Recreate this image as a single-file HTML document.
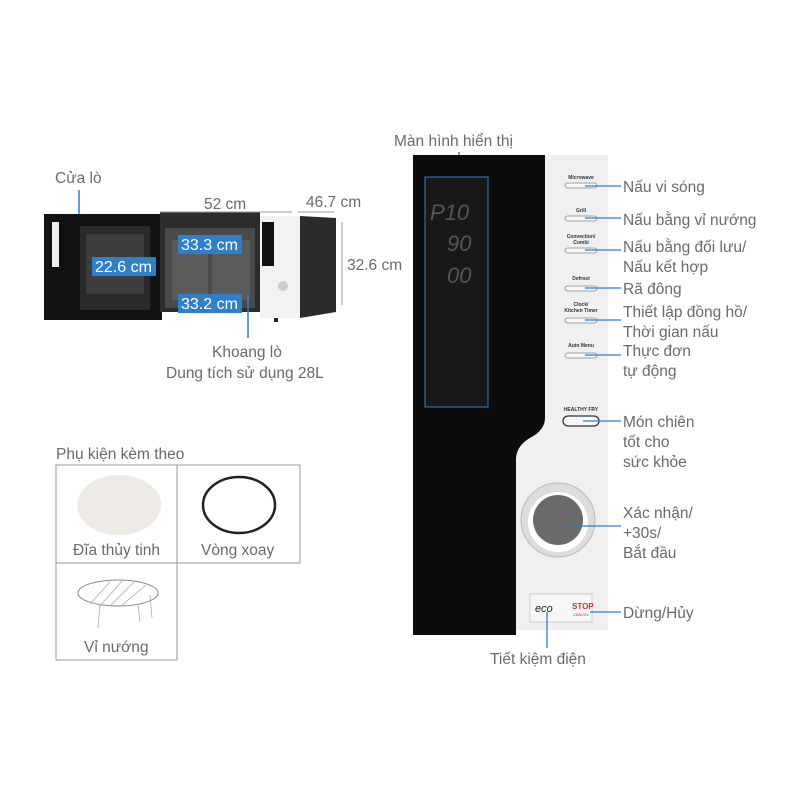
<!DOCTYPE html>
<html><head><meta charset="utf-8"><style>
html,body{margin:0;padding:0;background:#fff;}
svg{display:block;}
text{font-family:"Liberation Sans",sans-serif;}
.lb{font-size:15.5px;fill:#6a6a6a;}
.bt{font-size:5px;fill:#333;text-anchor:middle;font-weight:bold;}
.bl{fill:#2f7fc9;}
.wt{font-size:16px;fill:#fff;}
</style></head><body>
<svg width="800" height="800" viewBox="0 0 800 800" xmlns="http://www.w3.org/2000/svg">
<rect width="800" height="800" fill="#fff"/>

<!-- LEFT MICROWAVE -->
<text x="55" y="183" class="lb">Cửa lò</text>
<line x1="79" y1="190" x2="79" y2="222" stroke="#2f7fc9" stroke-width="1.5"/>
<rect x="44" y="214" width="118" height="106" fill="#111"/>
<rect x="52" y="222" width="7" height="45" fill="#eee"/>
<rect x="80" y="226" width="70" height="84" fill="#2a2a2a"/>
<rect x="86" y="234" width="58" height="60" fill="#3d3d3d"/>
<rect x="160" y="212" width="100" height="100" fill="#2c2c2c"/>
<rect x="165" y="228" width="90" height="80" fill="#4a4a4a"/>
<rect x="172" y="240" width="36" height="60" fill="#5b5b5b"/>
<rect x="212" y="240" width="38" height="60" fill="#5b5b5b"/>
<rect x="260" y="216" width="40" height="102" fill="#f2f2f2"/>
<rect x="262" y="222" width="12" height="44" fill="#111"/>
<circle cx="283" cy="286" r="5" fill="#ccc"/>
<polygon points="300,216 336,218 336,312 300,318" fill="#2b2b2b"/>
<rect x="274" y="318" width="4" height="4" fill="#222"/>
<!-- dims -->
<text x="204" y="209" class="lb">52 cm</text>
<line x1="160" y1="212" x2="292" y2="212" stroke="#999" stroke-width="1"/>
<text x="306" y="207" class="lb">46.7 cm</text>
<line x1="298" y1="212" x2="334" y2="212" stroke="#999" stroke-width="1"/>
<line x1="342" y1="222" x2="342" y2="305" stroke="#999" stroke-width="1"/>
<text x="347" y="270" class="lb">32.6 cm</text>
<rect x="178" y="235" width="64" height="19" class="bl"/>
<text x="181" y="250" class="wt">33.3 cm</text>
<rect x="92" y="257" width="64" height="19" class="bl"/>
<text x="95" y="272" class="wt">22.6 cm</text>
<rect x="178" y="294" width="64" height="19" class="bl"/>
<text x="181" y="309" class="wt">33.2 cm</text>
<line x1="248" y1="296" x2="248" y2="338" stroke="#2f7fc9" stroke-width="1.5"/>
<text x="212" y="357" class="lb">Khoang lò</text>
<text x="166" y="378" class="lb">Dung tích sử dụng 28L</text>

<!-- ACCESSORIES -->
<text x="56" y="459" class="lb">Phụ kiện kèm theo</text>
<path d="M56,465 H300 V563 H56 Z M177,465 V660 M56,563 V660 H177" fill="none" stroke="#999" stroke-width="1"/>
<ellipse cx="119" cy="505" rx="42" ry="30" fill="#eeeae5"/>
<ellipse cx="239" cy="505" rx="36" ry="28" fill="none" stroke="#222" stroke-width="2.5"/>
<text x="73" y="555" class="lb">Đĩa thủy tinh</text>
<text x="201" y="555" class="lb">Vòng xoay</text>
<ellipse cx="118" cy="593" rx="40" ry="13" fill="none" stroke="#888" stroke-width="1"/>
<g stroke="#aaa" stroke-width="0.8">
<line x1="90" y1="604" x2="110" y2="582"/><line x1="100" y1="606" x2="122" y2="581"/><line x1="110" y1="606" x2="134" y2="582"/><line x1="122" y1="605" x2="146" y2="585"/>
<line x1="100" y1="604" x2="98" y2="628"/><line x1="150" y1="595" x2="152" y2="618"/><line x1="138" y1="605" x2="140" y2="622"/>
</g>
<text x="84" y="652" class="lb">Vỉ nướng</text>

<!-- RIGHT PANEL -->
<text x="394" y="146" class="lb">Màn hình hiển thị</text>
<line x1="459" y1="152" x2="459" y2="178" stroke="#2f7fc9" stroke-width="1.5"/>
<path d="M413,155 H545 V420 Q545,432 530,438 Q516,446 516,460 V635 H413 Z" fill="#0c0c0c"/>
<path d="M545,155 H608 V630 H516 V462 Q516,446 530,438 Q545,430 545,418 Z" fill="#f0f0f0"/>
<rect x="425" y="177" width="63" height="230" fill="#181818" stroke="#2f7fc9" stroke-width="1"/>
<text x="430" y="220" font-size="22" fill="#555" font-style="italic">P10</text>
<text x="447" y="251" font-size="22" fill="#555" font-style="italic">90</text>
<text x="447" y="283" font-size="22" fill="#555" font-style="italic">00</text>
<!-- buttons -->
<g fill="#f7f7f7" stroke="#888" stroke-width="0.8">
<rect x="565" y="183" width="32" height="5" rx="2.5"/>
<rect x="565" y="216" width="32" height="5" rx="2.5"/>
<rect x="565" y="248" width="32" height="5" rx="2.5"/>
<rect x="565" y="286" width="32" height="5" rx="2.5"/>
<rect x="565" y="318" width="32" height="5" rx="2.5"/>
<rect x="565" y="353" width="32" height="5" rx="2.5"/>
<rect x="563" y="416" width="36" height="10" rx="5" stroke="#333" stroke-width="1.3"/>
</g>
<text x="581" y="179" class="bt">Microwave</text>
<text x="581" y="212" class="bt">Grill</text>
<text x="581" y="238" class="bt">Convection/</text>
<text x="581" y="244" class="bt">Combi</text>
<text x="581" y="280" class="bt">Defrost</text>
<text x="581" y="306" class="bt">Clock/</text>
<text x="581" y="312" class="bt">Kitchen Timer</text>
<text x="581" y="347" class="bt">Auto Menu</text>
<text x="581" y="411" class="bt">HEALTHY FRY</text>
<circle cx="558" cy="520" r="37" fill="#ddd" stroke="#bbb"/>
<circle cx="558" cy="522" r="30" fill="#fff"/>
<circle cx="558" cy="520" r="25" fill="#6a6a6a"/>
<rect x="530" y="594" width="62" height="28" fill="#f7f7f7" stroke="#ccc"/>
<text x="535" y="612" font-size="11" fill="#222" font-style="italic">eco</text>
<text x="572" y="609" font-size="8" fill="#c33" font-weight="bold">STOP</text>
<text x="573" y="616" font-size="4" fill="#c33">CANCEL</text>
<!-- connectors -->
<g stroke="#2f7fc9" stroke-width="1.3">
<line x1="585" y1="186" x2="621" y2="186"/>
<line x1="585" y1="218" x2="621" y2="218"/>
<line x1="585" y1="250" x2="621" y2="250"/>
<line x1="585" y1="288" x2="621" y2="288"/>
<line x1="585" y1="320" x2="621" y2="320"/>
<line x1="585" y1="355" x2="621" y2="355"/>
<line x1="583" y1="421" x2="621" y2="421"/>
<line x1="570" y1="526" x2="621" y2="526"/>
<line x1="590" y1="612" x2="621" y2="612"/>
<line x1="547" y1="612" x2="547" y2="648"/>
</g>
<text x="623" y="192" class="lb">Nấu vi sóng</text>
<text x="623" y="225" class="lb">Nấu bằng vỉ nướng</text>
<text x="623" y="252" class="lb">Nấu bằng đối lưu/</text>
<text x="623" y="272" class="lb">Nấu kết hợp</text>
<text x="623" y="294" class="lb">Rã đông</text>
<text x="623" y="317" class="lb">Thiết lập đồng hồ/</text>
<text x="623" y="337" class="lb">Thời gian nấu</text>
<text x="623" y="356" class="lb">Thực đơn</text>
<text x="623" y="376" class="lb">tự động</text>
<text x="623" y="427" class="lb">Món chiên</text>
<text x="623" y="447" class="lb">tốt cho</text>
<text x="623" y="467" class="lb">sức khỏe</text>
<text x="623" y="518" class="lb">Xác nhận/</text>
<text x="623" y="538" class="lb">+30s/</text>
<text x="623" y="558" class="lb">Bắt đầu</text>
<text x="623" y="618" class="lb">Dừng/Hủy</text>
<text x="490" y="664" class="lb">Tiết kiệm điện</text>
</svg>
</body></html>
